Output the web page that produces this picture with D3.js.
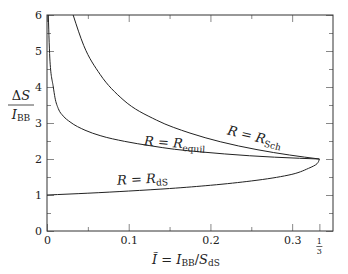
<!DOCTYPE html>
<html>
<head>
<meta charset="utf-8">
<script src="https://cdn.jsdelivr.net/npm/d3@7"></script>
<style>
  body { margin: 0; background: #fff; }
  svg text { font-family: "DejaVu Serif", serif; }
</style>
</head>
<body>
<div id="chart"></div>
<script>
// curves: [I_tilde, dS/I_BB]
var schPoints = [[0.032, 6.0], [0.045, 5.15], [0.065, 4.35], [0.093, 3.65], [0.134, 3.08],
                 [0.175, 2.72], [0.212, 2.48], [0.257, 2.26], [0.297, 2.11], [0.3333, 2.0]];
var equilPoints = [[0.0016, 6.0], [0.0037, 4.7], [0.0077, 4.0], [0.0098, 3.7], [0.0138, 3.4],
                   [0.02, 3.19], [0.0282, 3.03], [0.0465, 2.8], [0.065, 2.65], [0.095, 2.49],
                   [0.126, 2.37], [0.156, 2.27], [0.187, 2.2], [0.248, 2.09], [0.309, 2.02],
                   [0.3333, 2.0]];
var dsPoints = [[0, 1.0], [0.05, 1.05], [0.1, 1.11], [0.15, 1.18], [0.2, 1.27], [0.25, 1.39],
                [0.295, 1.55], [0.32, 1.74], [0.3305, 1.87], [0.3333, 2.0]];

var xMajor = [0, 0.1, 0.2, 0.3];
var xMinor = [0.05, 0.15, 0.25];
var yMajor = [0, 1, 2, 3, 4, 5, 6];
var yMinor = [0.5, 1.5, 2.5, 3.5, 4.5, 5.5];

var margin = {left: 47, top: 15, right: 15, bottom: 43};
var totalWidth = 348, totalHeight = 274;
var width = totalWidth - margin.left - margin.right;
var height = totalHeight - margin.top - margin.bottom;

var x = d3.scaleLinear().domain([0, 0.35]).range([0, width]);
var y = d3.scaleLinear().domain([0, 6]).range([height, 0]);

var svg = d3.select('#chart').append('svg')
    .attr('width', totalWidth)
    .attr('height', totalHeight)
  .append('g')
    .attr('transform', 'translate(' + margin.left + ',' + margin.top + ')');

function tidy(g) {
  g.attr('font-family', null).attr('font-size', 11);
  g.select('.domain').remove();
  g.selectAll('.tick line').attr('stroke', '#888');
  g.selectAll('.tick text').attr('fill', '#222');
}

// bottom axis: major with labels, minor without
svg.append('g').attr('transform', 'translate(0,' + height + ')')
  .call(d3.axisBottom(x).tickValues(xMajor).tickSize(-7).tickPadding(5).tickFormat(d3.format('.1~f')))
  .call(tidy);
svg.append('g').attr('transform', 'translate(0,' + height + ')')
  .call(d3.axisBottom(x).tickValues(xMinor).tickSize(-4).tickFormat(''))
  .call(tidy);
svg.append('g').attr('transform', 'translate(0,' + height + ')')
  .call(d3.axisBottom(x).tickValues([1 / 3]).tickSize(-7).tickFormat(''))
  .call(tidy);
// top axis mirrors
svg.append('g')
  .call(d3.axisTop(x).tickValues(xMajor).tickSize(-7).tickFormat(''))
  .call(tidy);
svg.append('g')
  .call(d3.axisTop(x).tickValues(xMinor).tickSize(-4).tickFormat(''))
  .call(tidy);

// left axis
svg.append('g')
  .call(d3.axisLeft(y).tickValues(yMajor).tickSize(-7).tickPadding(5).tickFormat(d3.format('d')))
  .call(tidy);
svg.append('g')
  .call(d3.axisLeft(y).tickValues(yMinor).tickSize(-4).tickFormat(''))
  .call(tidy);
// right axis
svg.append('g').attr('transform', 'translate(' + width + ',0)')
  .call(d3.axisRight(y).tickValues(yMajor).tickSize(-7).tickFormat(''))
  .call(tidy);
svg.append('g').attr('transform', 'translate(' + width + ',0)')
  .call(d3.axisRight(y).tickValues(yMinor).tickSize(-4).tickFormat(''))
  .call(tidy);

// frame
svg.append('rect')
  .attr('width', width).attr('height', height)
  .attr('fill', 'none').attr('stroke', '#333').attr('stroke-width', 1);

// 1/3 label as a small fraction
var third = svg.append('g').attr('transform', 'translate(' + x(1 / 3) + ',' + (height + 5) + ')');
third.append('text').attr('text-anchor', 'middle').attr('y', 8).attr('font-size', 8).attr('fill', '#222').text('1');
third.append('line').attr('x1', -3).attr('x2', 3).attr('y1', 10.5).attr('y2', 10.5)
  .attr('stroke', '#222').attr('stroke-width', 0.7);
third.append('text').attr('text-anchor', 'middle').attr('y', 18).attr('font-size', 8).attr('fill', '#222').text('3');

// curves
var lineX = d3.line()
  .x(function(d) { return x(d[0]); })
  .y(function(d) { return y(d[1]); })
  .curve(d3.curveMonotoneX);
var lineY = d3.line()
  .x(function(d) { return x(d[0]); })
  .y(function(d) { return y(d[1]); })
  .curve(d3.curveMonotoneY);

[[schPoints, lineX], [equilPoints, lineX], [dsPoints, lineY]].forEach(function(c) {
  svg.append('path').datum(c[0])
    .attr('d', c[1])
    .attr('fill', 'none')
    .attr('stroke', '#222')
    .attr('stroke-width', 1);
});

// curve labels
function curveLabel(cx, cy, angle, sub) {
  var t = svg.append('text')
    .attr('transform', 'translate(' + cx + ',' + cy + ') rotate(' + angle + ')')
    .attr('text-anchor', 'middle')
    .attr('fill', '#222')
    .attr('font-size', 13);
  t.append('tspan').attr('font-style', 'italic').text('R');
  t.append('tspan').text(' = ');
  t.append('tspan').attr('font-style', 'italic').text('R');
  t.append('tspan').attr('font-size', 9).attr('dy', 3).text(sub);
}
curveLabel(x(0.253), y(2.5), 14, 'Sch');
curveLabel(x(0.156), y(2.32), 4, 'equil');
curveLabel(x(0.117), y(1.32), -3, 'dS');

// y axis title as fraction
var yt = svg.append('g').attr('transform', 'translate(' + (-26) + ',' + y(3.5) + ')');
yt.append('text').attr('text-anchor', 'middle').attr('y', -5).attr('font-size', 13).attr('fill', '#222')
  .html('Δ<tspan font-style="italic">S</tspan>');
yt.append('line').attr('x1', -13).attr('x2', 13).attr('y1', 0).attr('y2', 0)
  .attr('stroke', '#222').attr('stroke-width', 0.8);
var yb = yt.append('text').attr('text-anchor', 'middle').attr('y', 14).attr('font-size', 13).attr('fill', '#222');
yb.append('tspan').attr('font-style', 'italic').text('I');
yb.append('tspan').attr('font-size', 9).attr('dy', 2).text('BB');

// x axis title
var xt = svg.append('text')
  .attr('x', x(0.17)).attr('y', height + 33)
  .attr('text-anchor', 'middle').attr('font-size', 13).attr('fill', '#222');
xt.append('tspan').attr('font-style', 'italic').text('Ĩ');
xt.append('tspan').text(' = ');
xt.append('tspan').attr('font-style', 'italic').text('I');
xt.append('tspan').attr('font-size', 9).attr('dy', 2).text('BB');
xt.append('tspan').attr('dy', -2).text('/');
xt.append('tspan').attr('font-style', 'italic').text('S');
xt.append('tspan').attr('font-size', 9).attr('dy', 2).text('dS');
</script>
</body>
</html>
